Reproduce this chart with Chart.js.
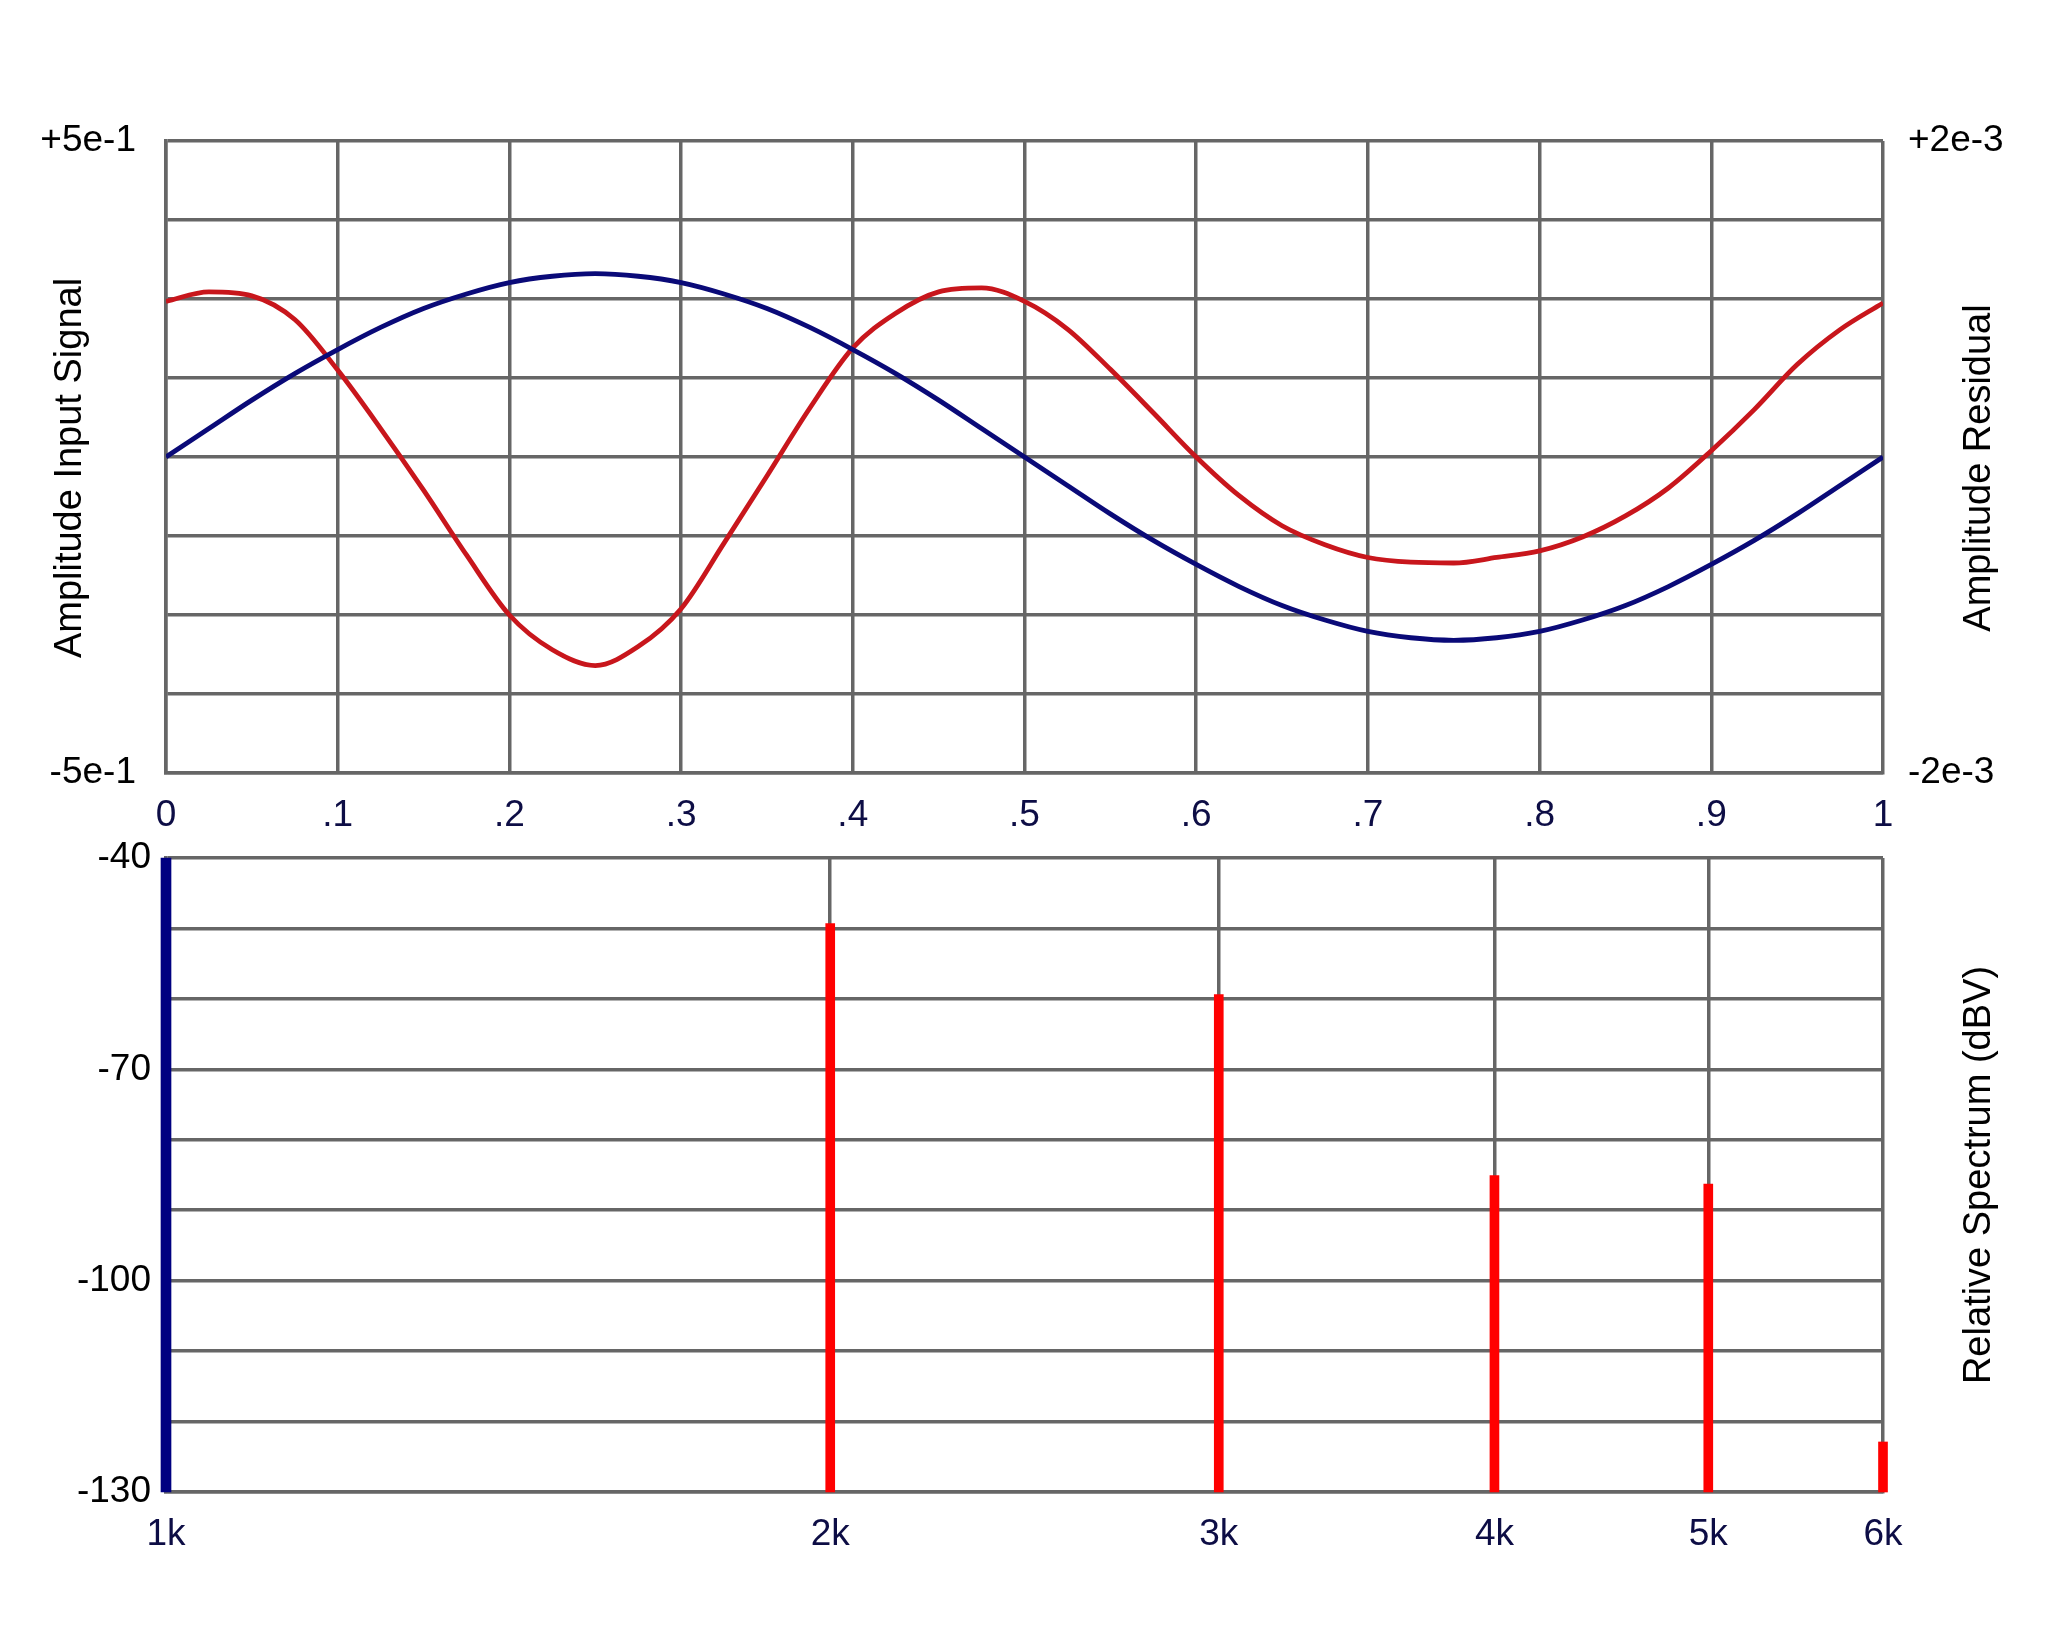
<!DOCTYPE html>
<html>
<head>
<meta charset="utf-8">
<script src="https://cdn.jsdelivr.net/npm/chart.js@4.4.0/dist/chart.umd.min.js"></script>
<style>
    html, body { margin: 0; padding: 0; background: #fff; }
    #wrap { position: relative; width: 2048px; height: 1652px; }
    #signalChart { position: absolute; left: 0; top: 0; }
    #spectrumChart { position: absolute; left: 0; top: 830px; }
</style>
</head>
<body>
<div id="wrap">
    <canvas id="signalChart" width="2048" height="830"></canvas>
    <canvas id="spectrumChart" width="2048" height="822"></canvas>
</div>
<script>
// time axis (fraction of one period)
var timePoints = [0, 0.025, 0.05, 0.075, 0.1, 0.125, 0.15, 0.175, 0.2, 0.225,
                  0.25, 0.275, 0.3, 0.325, 0.35, 0.375, 0.4, 0.425, 0.45, 0.475,
                  0.5, 0.525, 0.55, 0.575, 0.6, 0.625, 0.65, 0.675, 0.7, 0.725,
                  0.75, 0.775, 0.8, 0.825, 0.85, 0.875, 0.9, 0.925, 0.95, 0.975, 1];
// input signal (left axis)
var inputSignal = [0, 0.045, 0.09, 0.132, 0.17, 0.205, 0.235, 0.258, 0.276, 0.286,
                   0.29, 0.286, 0.276, 0.258, 0.235, 0.205, 0.17, 0.132, 0.09, 0.045,
                   0, -0.045, -0.09, -0.132, -0.17, -0.205, -0.235, -0.258, -0.276, -0.286,
                   -0.29, -0.286, -0.276, -0.258, -0.235, -0.205, -0.17, -0.132, -0.09, -0.045, 0];
// residual, in units of 1e-3 (right axis)
var residualE3 = [0.985, 1.045, 1.02, 0.87, 0.55, 0.18, -0.21, -0.62, -1.0, -1.22,
                  -1.32, -1.2, -0.96, -0.545, -0.12, 0.31, 0.69, 0.91, 1.045, 1.07,
                  0.985, 0.81, 0.555, 0.28, 0.0, -0.245, -0.435, -0.555, -0.636, -0.666,
                  -0.671, -0.636, -0.594, -0.506, -0.373, -0.196, 0.04, 0.30, 0.585, 0.806, 0.975];

var timeTicks      = [0, 0.1, 0.2, 0.3, 0.4, 0.5, 0.6, 0.7, 0.8, 0.9, 1];
var timeTickLabels = ['0', '.1', '.2', '.3', '.4', '.5', '.6', '.7', '.8', '.9', '1'];
var signalGrid       = [-0.5, -0.375, -0.25, -0.125, 0, 0.125, 0.25, 0.375, 0.5];
var signalTickValues = [0.5, -0.5];
var signalTickLabels = ['+5e-1', '-5e-1'];
var residualTickValues = [2, -2];
var residualTickLabels = ['+2e-3', '-2e-3'];

// spectrum
var fundamentalFreq  = [1000];
var fundamentalLevel = [-40];
var harmonicFreqs    = [2000, 3000, 4000, 5000, 6000];
var harmonicLevels   = [-49.3, -59.4, -85.1, -86.3, -122.9];
var freqTicks      = [1000, 2000, 3000, 4000, 5000, 6000];
var freqTickLabels = ['1k', '2k', '3k', '4k', '5k', '6k'];
var levelGrid       = [-130, -120, -110, -100, -90, -80, -70, -60, -50, -40];
var levelTickValues = [-40, -70, -100, -130];
var levelTickLabels = ['-40', '-70', '-100', '-130'];
var levelFloor = -130;

var gridColor = '#666666';
var fontFamily = '"Liberation Sans", Arial, Helvetica, sans-serif';
Chart.defaults.font.family = fontFamily;

var axisTitles = {
    id: 'axisTitles',
    afterDraw: function (chart, args, opts) {
        var ctx = chart.ctx;
        (opts.items || []).forEach(function (t) {
            ctx.save();
            ctx.translate(t.x, t.y);
            ctx.rotate(-Math.PI / 2);
            ctx.font = '38px ' + fontFamily;
            ctx.fillStyle = '#000';
            ctx.textAlign = 'center';
            ctx.textBaseline = 'middle';
            ctx.fillText(t.text, 0, 0);
            ctx.restore();
        });
    }
};

function setTicks(values) {
    return function (scale) {
        scale.ticks = values.map(function (v) { return { value: v }; });
    };
}
function lookupLabel(values, labels) {
    return function (value) {
        var i = values.indexOf(value);
        return i < 0 ? '' : labels[i];
    };
}
// fixed axis box size, and no extra label overflow padding
function fixWidth(w) {
    return function (s) { s.width = w; s.paddingTop = 0; s.paddingBottom = 0; };
}
function fixHeight(h) {
    return function (s) { s.height = h; s.paddingLeft = 0; s.paddingRight = 0; };
}

var signalData = timePoints.map(function (t, i) { return { x: t, y: inputSignal[i] }; });
var residualData = timePoints.map(function (t, i) { return { x: t, y: residualE3[i] }; });

new Chart(document.getElementById('signalChart'), {
    type: 'line',
    data: {
        datasets: [{
            label: 'Input Signal',
            data: signalData,
            yAxisID: 'y',
            borderColor: '#0a0a78',
            borderWidth: 4.8,
            pointRadius: 0,
            cubicInterpolationMode: 'monotone'
        }, {
            label: 'Residual',
            data: residualData,
            yAxisID: 'y2',
            borderColor: '#c8161c',
            borderWidth: 4.8,
            pointRadius: 0,
            cubicInterpolationMode: 'monotone'
        }]
    },
    options: {
        responsive: false,
        animation: false,
        layout: { padding: { top: 141, left: 0, right: 0, bottom: 0 } },
        plugins: {
            legend: { display: false },
            tooltip: { enabled: false },
            axisTitles: { items: [
                { text: 'Amplitude Input Signal', x: 71, y: 468 },
                { text: 'Amplitude Residual', x: 1980, y: 468 }
            ] }
        },
        scales: {
            x: {
                type: 'linear', min: 0, max: 1,
                afterBuildTicks: setTicks(timeTicks),
                afterFit: fixHeight(57),
                grid: { color: gridColor, lineWidth: 3.5, drawTicks: false },
                border: { color: gridColor, width: 3.5 },
                ticks: {
                    color: '#0d0d45', padding: 21, maxRotation: 0,
                    font: { size: 37 },
                    callback: function (v, i) { return timeTickLabels[i]; }
                }
            },
            y: {
                position: 'left', min: -0.5, max: 0.5,
                afterBuildTicks: setTicks(signalGrid),
                afterFit: fixWidth(166),
                grid: { color: gridColor, lineWidth: 3.5, drawTicks: false },
                border: { color: gridColor, width: 3.5 },
                ticks: {
                    color: '#000', padding: 30,
                    font: { size: 37 },
                    callback: lookupLabel(signalTickValues, signalTickLabels)
                }
            },
            y2: {
                position: 'right', min: -2, max: 2,
                afterBuildTicks: setTicks(residualTickValues),
                afterFit: fixWidth(165),
                grid: { display: false, drawTicks: false },
                border: { display: false },
                ticks: {
                    color: '#000', padding: 25,
                    font: { size: 37 },
                    callback: lookupLabel(residualTickValues, residualTickLabels)
                }
            }
        }
    },
    plugins: [axisTitles]
});

function spectrumPoints(freqs, levels) {
    return freqs.map(function (f, i) { return { x: f, y: [levelFloor, levels[i]] }; });
}

new Chart(document.getElementById('spectrumChart'), {
    type: 'bar',
    data: {
        datasets: [{
            label: 'Fundamental',
            data: spectrumPoints(fundamentalFreq, fundamentalLevel),
            backgroundColor: '#000080',
            barThickness: 10,
            clip: false
        }, {
            label: 'Harmonics',
            data: spectrumPoints(harmonicFreqs, harmonicLevels),
            backgroundColor: '#ff0000',
            barThickness: 9,
            clip: false
        }]
    },
    options: {
        responsive: false,
        animation: false,
        datasets: { bar: { grouped: false } },
        layout: { padding: { top: 28, left: 0, right: 165, bottom: 0 } },
        plugins: {
            legend: { display: false },
            tooltip: { enabled: false },
            axisTitles: { items: [
                { text: 'Relative Spectrum (dBV)', x: 1980, y: 345 }
            ] }
        },
        scales: {
            x: {
                type: 'logarithmic', min: 1000, max: 6000,
                offset: false,
                afterBuildTicks: setTicks(freqTicks),
                afterFit: fixHeight(160),
                grid: { color: gridColor, lineWidth: 3.5, drawTicks: false, offset: false },
                border: { color: gridColor, width: 3.5 },
                ticks: {
                    color: '#0d0d45', padding: 21, maxRotation: 0, autoSkip: false,
                    font: { size: 37 },
                    callback: function (v, i) { return freqTickLabels[i]; }
                }
            },
            y: {
                min: -130, max: -40,
                afterBuildTicks: setTicks(levelGrid),
                afterFit: fixWidth(166),
                grid: { color: gridColor, lineWidth: 3.5, drawTicks: false },
                border: { color: gridColor, width: 3.5 },
                ticks: {
                    color: '#000', padding: 15,
                    font: { size: 37 },
                    callback: lookupLabel(levelTickValues, levelTickLabels)
                }
            }
        }
    },
    plugins: [axisTitles]
});
</script>
</body>
</html>
